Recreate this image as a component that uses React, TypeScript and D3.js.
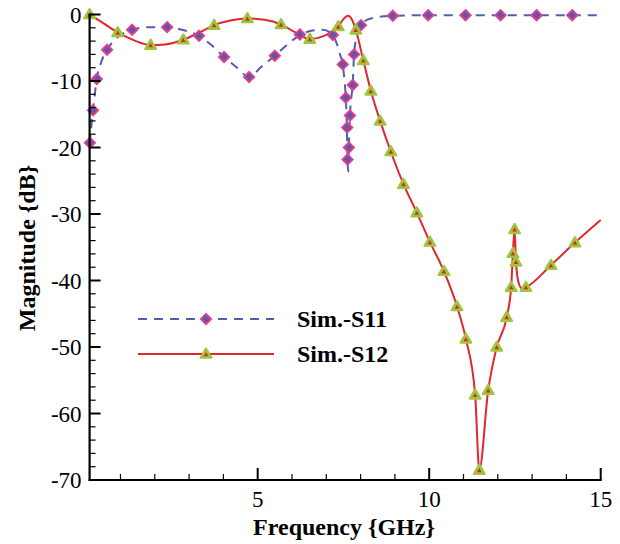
import React, { useEffect, useRef } from "react";
import * as d3 from "d3";

// S11 curve (GHz, dB)
const s11Freq = [0.1, 0.2, 0.31, 0.45, 0.61, 0.9, 1.34, 1.8, 2.36, 2.8, 3.29, 3.65, 4.02, 4.4, 4.75, 5.1, 5.5, 5.85, 6.23, 6.6, 6.9, 7.19, 7.3, 7.4, 7.48, 7.54, 7.57, 7.6, 7.62, 7.64, 7.66, 7.69, 7.73, 7.77, 7.81, 7.9, 8.01, 8.3, 8.94, 9.97, 11.06, 12.08, 13.13, 14.17, 15];
const s11Mag = [-19.5, -14.4, -9.7, -7.0, -5.3, -3.5, -2.3, -1.9, -1.9, -2.3, -3.2, -4.6, -6.4, -8.0, -9.4, -7.9, -6.2, -4.6, -3.1, -2.4, -2.3, -3.1, -4.3, -6.0, -7.5, -10.5, -12.5, -17.0, -21.8, -23.6, -20.0, -15.2, -12.5, -10.6, -6.0, -3.0, -1.6, -0.6, -0.2, -0.1, -0.1, -0.1, -0.1, -0.1, -0.1];
// S11 marker positions
const s11MarkFreq = [0.11, 0.2, 0.31, 0.61, 1.34, 2.36, 3.29, 4.02, 4.75, 5.5, 6.23, 7.19, 7.48, 7.57, 7.61, 7.62, 7.66, 7.69, 7.77, 7.81, 8.01, 8.94, 9.97, 11.06, 12.08, 13.13, 14.17];
const s11MarkMag = [-19.3, -14.4, -9.7, -5.3, -2.3, -1.9, -3.2, -6.4, -9.4, -6.2, -3.0, -3.1, -7.5, -12.5, -17.0, -21.8, -20.0, -15.2, -10.6, -6.0, -1.6, -0.2, -0.1, -0.1, -0.1, -0.1, -0.1];

// S12 curve
const s12Freq = [0.1, 0.5, 0.92, 1.4, 1.88, 2.3, 2.83, 3.3, 3.73, 4.2, 4.7, 5.2, 5.68, 6.1, 6.52, 6.9, 7.15, 7.35, 7.5, 7.64, 7.75, 7.86, 8.08, 8.3, 8.57, 8.88, 9.25, 9.64, 10.02, 10.43, 10.81, 11.07, 11.34, 11.46, 11.72, 11.97, 12.26, 12.39, 12.44, 12.49, 12.53, 12.6, 12.7, 12.82, 13.55, 14.25, 15];
const s12Mag = [0, -1.3, -2.7, -3.9, -4.6, -4.5, -3.8, -2.7, -1.6, -0.9, -0.6, -0.8, -1.5, -2.7, -3.7, -3.3, -2.6, -1.8, -0.7, -0.2, -0.8, -2.3, -6.9, -11.5, -16.0, -20.6, -25.5, -29.8, -34.2, -38.6, -43.9, -48.8, -57.2, -68.5, -56.5, -50.0, -45.5, -41.0, -35.9, -32.3, -37.2, -40.2, -41.2, -41.0, -37.7, -34.3, -30.9];
// S12 marker positions
const s12MarkFreq = [0.1, 0.92, 1.88, 2.83, 3.73, 4.7, 5.68, 6.52, 7.35, 7.86, 8.08, 8.3, 8.57, 8.88, 9.25, 9.64, 10.02, 10.43, 10.81, 11.07, 11.34, 11.46, 11.72, 11.97, 12.26, 12.39, 12.44, 12.49, 12.53, 12.82, 13.55, 14.25];
const s12MarkMag = [0, -2.7, -4.6, -3.8, -1.6, -0.6, -1.5, -3.7, -1.8, -2.3, -6.9, -11.5, -16.0, -20.6, -25.5, -29.8, -34.2, -38.6, -43.9, -48.8, -57.2, -68.5, -56.5, -50.0, -45.5, -41.0, -35.9, -32.3, -37.2, -41.0, -37.7, -34.3];

const xMajor = [5, 10, 15];
const xMinor = [1, 2, 3, 4, 6, 7, 8, 9, 11, 12, 13, 14];
const yMajor = [0, -10, -20, -30, -40, -50, -60, -70];
const yMinor = d3.range(-68, 0, 2).filter((v) => v % 10 !== 0);

const seriesNames = ["Sim.-S11", "Sim.-S12"];

const BLUE = "#4d5fae";
const RED = "#e2262b";
const SERIF = "Liberation Serif";

function Diamond({ x, y }: { x: number; y: number }) {
  const r = 5.2;
  return (
    <path
      d={`M${x},${y - r}L${x + r},${y}L${x},${y + r}L${x - r},${y}Z`}
      fill="#5b5aa6"
      stroke="#ec3a8c"
      strokeWidth={1.8}
    />
  );
}

function Tri({ x, y }: { x: number; y: number }) {
  const s = 5.5;
  return (
    <g>
      <path
        d={`M${x},${y - s}L${x + s},${y + s * 0.7}L${x - s},${y + s * 0.7}Z`}
        fill="#9cc63e"
        stroke="#9cc63e"
        strokeWidth={2}
        strokeLinejoin="round"
      />
      <path
        d={`M${x},${y - 2}L${x + 2.3},${y + 2.2}L${x - 2.3},${y + 2.2}Z`}
        fill={RED}
      />
    </g>
  );
}

export default function App() {
  const ref = useRef<SVGSVGElement>(null);
  useEffect(() => {
    if (!ref.current) return;
    d3.select(ref.current)
      .selectAll<SVGTextElement, unknown>("text")
      .each(function () {
        this.style.setProperty("font-family", `"${SERIF}", "Times New Roman", Times, serif`, "important");
      });
  });
  const W = 620, H = 544;
  const x = d3.scaleLinear().domain([0.1, 15]).range([89.6, 600.7]);
  const y = d3.scaleLinear().domain([-70, 0]).range([480, 14.5]);
  const line = d3
    .line<[number, number]>()
    .x((d) => x(d[0]))
    .y((d) => y(d[1]))
    .curve(d3.curveMonotoneX);
  const s11 = s11Freq.map((f, i) => [f, s11Mag[i]] as [number, number]);
  const s12 = s12Freq.map((f, i) => [f, s12Mag[i]] as [number, number]);
  const x0 = x(0.1);
  const yb = y(-70);

  return (
    <svg ref={ref} width={W} height={H} style={{ display: "block", position: "absolute", left: 0, top: 0 }}>
      <rect width={W} height={H} fill="#fff" />
      <path d={line(s11) || ""} fill="none" stroke={BLUE} strokeWidth={2} strokeDasharray="9,7" />
      <path d={line(s12) || ""} fill="none" stroke={RED} strokeWidth={2} />
      {s11MarkFreq.map((f, i) => (
        <Diamond key={"d" + i} x={x(f)} y={y(s11MarkMag[i])} />
      ))}
      {s12MarkFreq.map((f, i) => (
        <Tri key={"t" + i} x={x(f)} y={y(s12MarkMag[i])} />
      ))}

      {/* axes */}
      <line x1={x0} x2={x0} y1={y(0) - 1} y2={yb + 1} stroke="#000" strokeWidth={2.2} />
      <line x1={x0 - 1} x2={x(15) + 1} y1={yb} y2={yb} stroke="#000" strokeWidth={2.2} />
      {yMajor.map((v) => (
        <g key={"ym" + v}>
          <line x1={x0} x2={x0 + 11} y1={y(v)} y2={y(v)} stroke="#000" strokeWidth={2} />
          <text x={x0 - 8} y={y(v) + 8} textAnchor="end" fontSize={23} fontFamily={SERIF}>
            {v}
          </text>
        </g>
      ))}
      {yMinor.map((v) => (
        <line key={"yn" + v} x1={x0} x2={x0 + 6} y1={y(v)} y2={y(v)} stroke="#000" strokeWidth={1.2} />
      ))}
      {xMajor.map((v) => (
        <g key={"xm" + v}>
          <line x1={x(v)} x2={x(v)} y1={yb} y2={yb - 12} stroke="#000" strokeWidth={2} />
          <text x={x(v)} y={yb + 27} textAnchor="middle" fontSize={23} fontFamily={SERIF}>
            {v}
          </text>
        </g>
      ))}
      {xMinor.map((v) => (
        <line key={"xn" + v} x1={x(v)} x2={x(v)} y1={yb} y2={yb - 6} stroke="#000" strokeWidth={1.2} />
      ))}
      <text x={344} y={535} textAnchor="middle" fontSize={24} fontWeight="bold" fontFamily={SERIF}>
        Frequency {"{GHz}"}
      </text>
      <text
        transform="translate(35,248) rotate(-90)"
        textAnchor="middle"
        fontSize={24}
        fontWeight="bold"
        fontFamily={SERIF}
      >
        Magnitude {"{dB}"}
      </text>

      {/* legend */}
      <line x1={138} x2={274} y1={319} y2={319} stroke={BLUE} strokeWidth={2} strokeDasharray="9,7" />
      <Diamond x={206} y={319} />
      <text x={297} y={327} fontSize={24} fontWeight="bold" fontFamily={SERIF}>{seriesNames[0]}</text>
      <line x1={138} x2={274} y1={354} y2={354} stroke={RED} strokeWidth={2} />
      <Tri x={206} y={354} />
      <text x={297} y={362} fontSize={24} fontWeight="bold" fontFamily={SERIF}>{seriesNames[1]}</text>
    </svg>
  );
}
